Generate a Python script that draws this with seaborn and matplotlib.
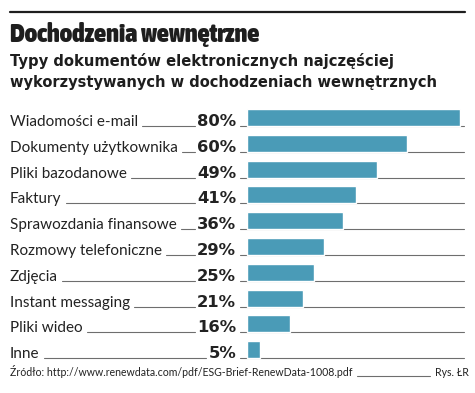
import matplotlib
matplotlib.use("Agg")
import matplotlib.pyplot as plt
from matplotlib import font_manager as fm
import seaborn as sns
import pandas as pd

# data
categories = ["Wiadomości e-mail", "Dokumenty użytkownika", "Pliki bazodanowe",
              "Faktury", "Sprawozdania finansowe", "Rozmowy telefoniczne",
              "Zdjęcia", "Instant messaging", "Pliki wideo", "Inne"]
values = [80, 60, 49, 41, 36, 29, 25, 21, 16, 5]
pct_labels = ["80%", "60%", "49%", "41%", "36%", "29%", "25%", "21%", "16%", "5%"]

title = "Dochodzenia wewnętrzne"
subtitle = ["Typy dokumentów elektronicznych najczęściej",
            "wykorzystywanych w dochodzeniach wewnętrznych"]
source = "Źródło: http://www.renewdata.com/pdf/ESG-Brief-RenewData-1008.pdf"
credit = "Rys. ŁR"

BAR = "#4a9bb7"
LINE = "#6e6e6e"
INK = "#1e1e1e"
W, H = 475, 393

sns.set_style("white")
plt.rcParams["font.family"] = ["Lato", "DejaVu Sans"]


def wnum(w):
    return w if isinstance(w, (int, float)) else fm.weight_dict.get(w, 400)


# heaviest condensed face available for the headline
cond = [f for f in fm.fontManager.ttflist
        if f.stretch in ("condensed", "semi-condensed", "extra-condensed")
        or "Narrow" in f.name or "Condensed" in f.name]
title_kw = dict(family=["DejaVu Sans"], weight="bold")
if cond:
    best = max(cond, key=lambda f: wnum(f.weight))
    title_kw = dict(fontproperties=fm.FontProperties(fname=best.fname))

fig = plt.figure(figsize=(W / 100, H / 100), dpi=100)

# axes cover the row area; x=0 sits at pixel 247, 80% ends at pixel 460
ppu = (460 - 247) / 80
ax = fig.add_axes([10 / W, 1 - 362.6 / H, 455 / W, 258 / H])
df = pd.DataFrame({"kat": categories, "val": values})
sns.barplot(data=df, y="kat", x="val", orient="h", color=BAR, width=0.66,
            saturation=1, ax=ax)
ax.set_xlim(-(247 - 10) / ppu, (465 - 247) / ppu)
ax.set_ylim(9.5, -0.5)
ax.axis("off")


def px(x, y):
    return x / W, 1 - y / H


fig.canvas.draw()
r = fig.canvas.get_renderer()


def fit(t, width):
    b = t.get_window_extent(r)
    t.set_fontsize(t.get_fontsize() * width / b.width)


# header
fig.add_artist(plt.Line2D([10 / W, 465 / W], [1 - 12 / H] * 2, color=INK,
                          lw=1.6, transform=fig.transFigure))
tt = fig.text(*px(10, 42), title, color=INK, va="baseline", **title_kw)
tt.set_fontsize(17)
fit(tt, 250)
for k, line in enumerate(subtitle):
    st = fig.text(*px(10, 66 + 21 * k), line, family=["DejaVu Sans"], weight="bold",
                  size=10.6, color=INK, va="baseline")
fit(st, 428)

inv = ax.transData.inverted()
row_base = 0.33
for i, (cat, lab) in enumerate(zip(categories, pct_labels)):
    t = ax.text(-(247 - 10) / ppu, i + row_base, cat, size=11, color="#222222",
                va="baseline", ha="left")
    p = ax.text(-(247 - 236) / ppu, i + row_base, lab, family=["DejaVu Sans"],
                weight="bold", size=11.8, color="#222222", va="baseline", ha="right")
    tb = t.get_window_extent(r)
    pb = p.get_window_extent(r)
    x0 = inv.transform((tb.x1 + 4, 0))[0]
    x1 = inv.transform((pb.x0 - 2, 0))[0]
    ax.plot([x0, x1], [i + row_base] * 2, color=LINE, lw=0.8, clip_on=False)
    ax.plot([-(247 - 240) / ppu, (464 - 247) / ppu], [i + row_base] * 2,
            color=LINE, lw=0.8, clip_on=False, zorder=0.5)

# footer
s = fig.text(*px(10, 376), source, size=7.6, color="#222222", va="baseline")
c = fig.text(*px(469, 376), credit, size=7.6, color="#222222", va="baseline",
             ha="right")
fig.canvas.draw()
sb = s.get_window_extent(r)
cb = c.get_window_extent(r)
fig.add_artist(plt.Line2D([(sb.x1 + 4) / W, (cb.x0 - 5) / W], [1 - 376 / H] * 2,
                          color=LINE, lw=0.8, transform=fig.transFigure))

fig.savefig("out.png", dpi=100)
